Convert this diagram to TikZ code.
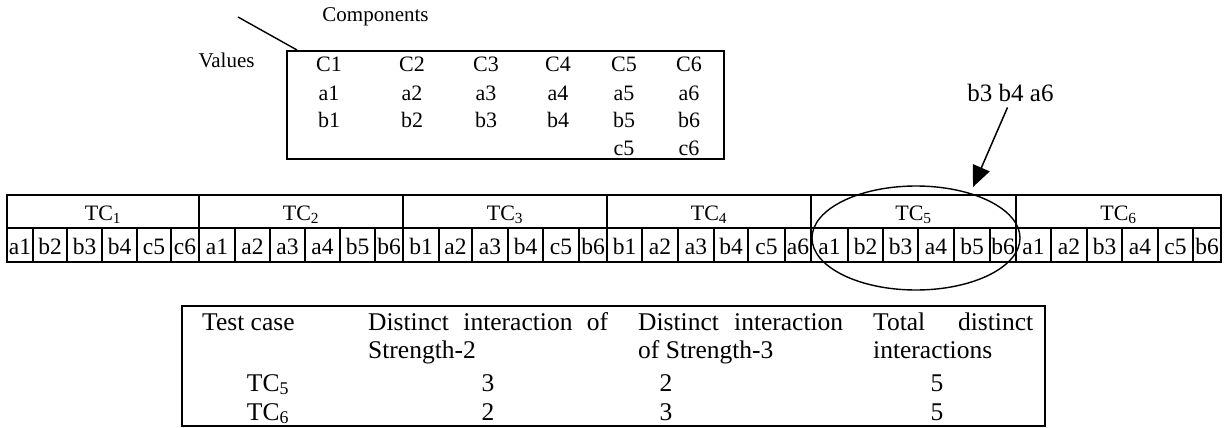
\documentclass[tikz,border=0pt]{standalone}
\usepackage{fontspec}
\setmainfont{Liberation Serif}
\usetikzlibrary{arrows.meta,shapes.geometric}

\tikzset{
  txt/.style={inner sep=0pt, anchor=base},
  boxtxt/.style={txt, font=\fontsize{22}{26}\selectfont},
  lbltxt/.style={txt, font=\fontsize{21}{25}\selectfont},
  cell/.style={draw, line width=1.4pt, inner sep=0pt, minimum height=34pt,
    text height=18pt, text depth=0pt, font=\fontsize{23.5}{27}\selectfont},
  grouphead/.style={draw, line width=1.4pt, inner sep=0pt, minimum height=33pt,
    text height=17pt, text depth=0pt, font=\fontsize{22}{26}\selectfont},
  tabtxt/.style={txt, font=\fontsize{25.5}{29}\selectfont},
  frame/.style={draw, line width=1.5pt, inner sep=0pt},
}

\begin{document}
\begin{tikzpicture}[x=1pt, y=-1pt]
\useasboundingbox (0,0) rectangle (1227,428);

% ---- component / value box ----
\node[frame, line width=1.8pt, minimum width=437pt, minimum height=108pt] (vbox) at (505.5,105) {};
\node[lbltxt] (comp) at (375.5,22) {Components};
\node[lbltxt] (vals) at (226.5,67) {Values};
\coordinate (diagA) at (238,17);
\coordinate (diagB) at (297,50);
\draw[line width=1.4pt] (diagA) -- (diagB);

\foreach \i/\x/\c/\a/\b in {1/329/C1/a1/b1, 2/412/C2/a2/b2, 3/486/C3/a3/b3,
                             4/558/C4/a4/b4, 5/624/C5/a5/b5, 6/689/C6/a6/b6} {
  \node[boxtxt] (comp\i) at (\x,72) {\c};
  \node[boxtxt] (va\i) at (\x,100) {\a};
  \node[boxtxt] (vb\i) at (\x,128) {\b};
}
\node[boxtxt] (vc5) at (624,155) {c5};
\node[boxtxt] (vc6) at (689,155) {c6};

% ---- test case strip ----
\foreach \g/\l/\r in {1/7/199, 2/199/403, 3/403/607, 4/607/811, 5/811/1016, 6/1016/1221} {
  \node[grouphead, minimum width={(\r-\l)*1pt}] (tc\g) at ({(\l+\r)/2},211.5) {TC\textsubscript{\g}};
}
\foreach \n/\l/\r/\t in {
   1-1/7/33/a1, 1-2/33/67/b2, 1-3/67/102/b3, 1-4/102/137/b4, 1-5/137/171/c5, 1-6/171/199/c6,
   2-1/199/235/a1, 2-2/235/270/a2, 2-3/270/305/a3, 2-4/305/340/a4, 2-5/340/375/b5, 2-6/375/403/b6,
   3-1/403/439/b1, 3-2/439/472/a2, 3-3/472/508/a3, 3-4/508/543/b4, 3-5/543/579/c5, 3-6/579/607/b6,
   4-1/607/642/b1, 4-2/642/678/a2, 4-3/678/714/a3, 4-4/714/748/b4, 4-5/748/785/c5, 4-6/785/811/a6,
   5-1/811/848/a1, 5-2/848/883/b2, 5-3/883/918/b3, 5-4/918/954/a4, 5-5/954/990/b5, 5-6/990/1016/b6,
   6-1/1016/1051/a1, 6-2/1051/1087/a2, 6-3/1087/1122/b3, 6-4/1122/1158/a4, 6-5/1158/1193/c5, 6-6/1193/1221/b6} {
  \node[cell, minimum width={(\r-\l)*1pt}] (cell\n) at ({(\l+\r)/2},245) {\t};
}

% ---- highlighted test case ----
\node[ellipse, draw, line width=1.4pt, minimum width=208pt, minimum height=104pt, inner sep=0pt] (focus) at (916,238) {};
\node[txt, font=\fontsize{25}{29}\selectfont] (triple) at (1010.5,101) {b3 b4 a6};
\coordinate (tip) at (973,187);
\draw[line width=1.5pt, -{Triangle[length=21pt,width=18pt]}] ([xshift=-3pt,yshift=-6pt]triple.south) -- (tip);

% ---- summary table ----
\node[frame, minimum width=863pt, minimum height=120pt] (summary) at (613.5,366) {};
\node[tabtxt, anchor=base west] (h1) at (202,330) {Test case};
\node[tabtxt, anchor=base west] (h2) at (368,330) {\makebox[240pt][s]{Distinct interaction of}};
\node[tabtxt, anchor=base west] (h3) at (638,330) {\makebox[205pt][s]{Distinct interaction}};
\node[tabtxt, anchor=base west] (h4) at (873,330) {\makebox[160pt][s]{Total distinct}};
\node[tabtxt, anchor=base west] (h2b) at (368,358) {Strength-2};
\node[tabtxt, anchor=base west] (h3b) at (638,358) {of Strength-3};
\node[tabtxt, anchor=base west] (h4b) at (873,358) {interactions};

\node[tabtxt] (r5) at (268,391) {TC\textsubscript{5}};
\node[tabtxt] (r5a) at (488,391) {3};
\node[tabtxt] (r5b) at (666,391) {2};
\node[tabtxt] (r5c) at (937,391) {5};
\node[tabtxt] (r6) at (268,420) {TC\textsubscript{6}};
\node[tabtxt] (r6a) at (488,420) {2};
\node[tabtxt] (r6b) at (666,420) {3};
\node[tabtxt] (r6c) at (937,420) {5};
\end{tikzpicture}
\end{document}
